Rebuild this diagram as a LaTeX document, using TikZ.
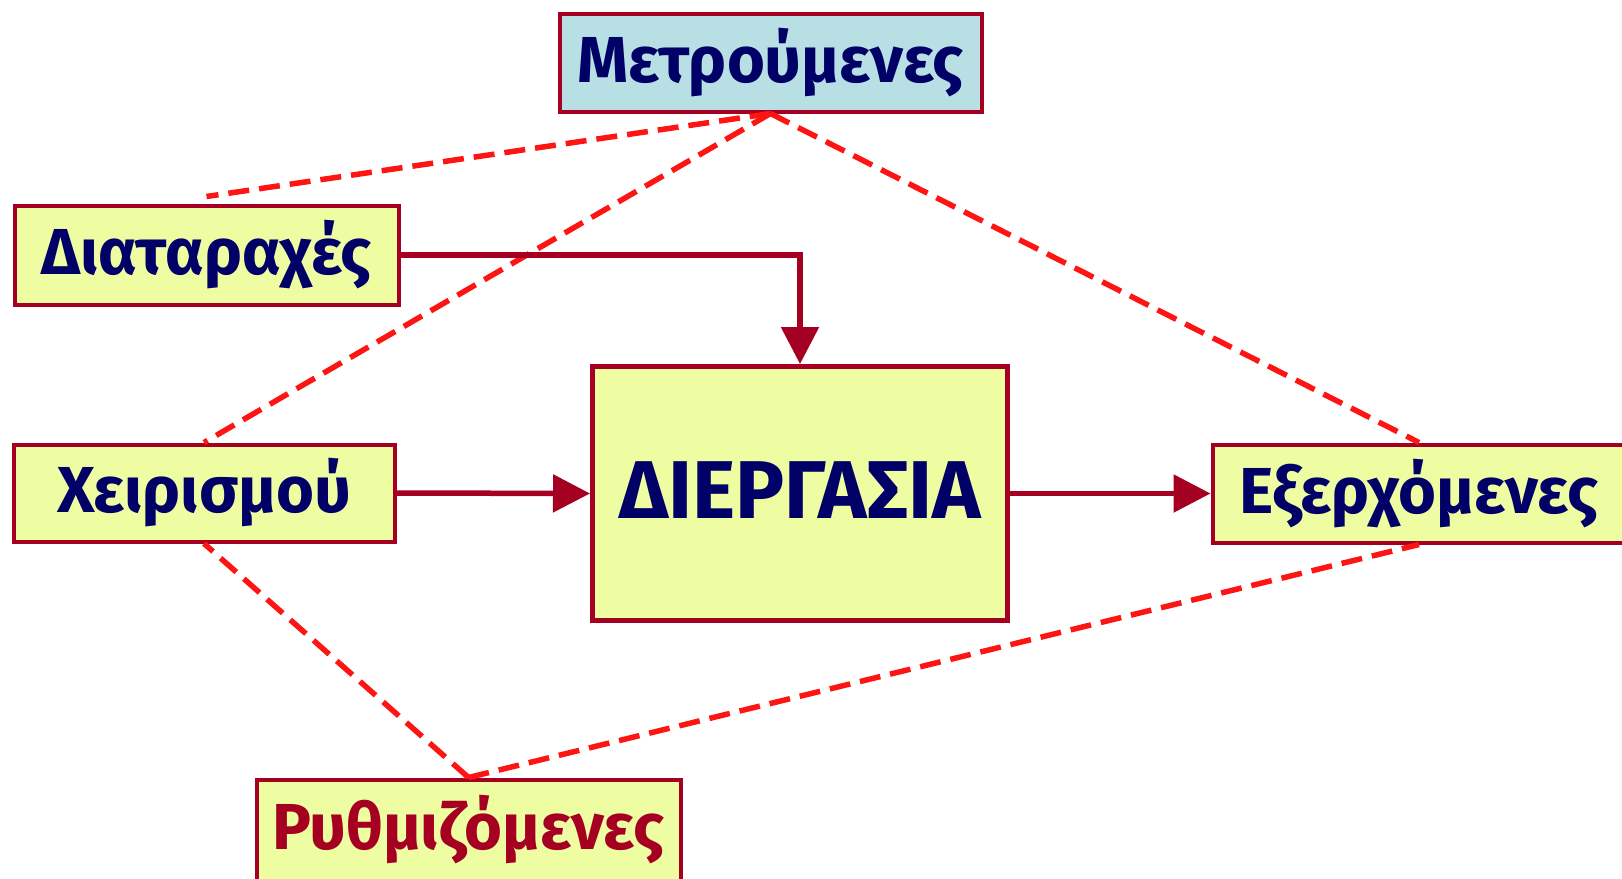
\documentclass[tikz,border=0pt]{standalone}
\usepackage{fontspec}
\setmainfont{Fira Sans}
\usetikzlibrary{arrows.meta}
\definecolor{bord}{HTML}{A50021}
\definecolor{yel}{HTML}{EEFCA2}
\definecolor{blu}{HTML}{B8E0E4}
\definecolor{navy}{HTML}{000066}
\definecolor{dashred}{HTML}{FF1414}
\begin{document}
\begin{tikzpicture}[x=1pt,y=-1pt,
  box/.style={draw=bord, line width=4pt, fill=yel, inner sep=0pt, text=navy,
    font=\fontsize{65}{70}\selectfont\bfseries},
  dline/.style={draw=dashred, line width=5.5pt, dash pattern=on 21pt off 10pt},
  arr/.style={draw=bord, line width=5.5pt, -{Triangle[length=37pt,width=37pt]}}]
\useasboundingbox (0,0) rectangle (1622,878);
\node[box, fill=blu, minimum width=422pt, minimum height=98pt] (metr) at (770.5,62.5) {Μετρούμενες};
\node[box, minimum width=384pt, minimum height=99pt] (diat) at (206.5,255) {Διαταραχές};
\node[box, minimum width=381pt, minimum height=97pt] (xeir) at (204,493) {Χειρισμού};
\node[box, line width=5pt, minimum width=415pt, minimum height=254pt, font=\fontsize{82}{86}\selectfont\bfseries] (dierg) at (800,493.5) {\raisebox{7pt}{ΔΙΕΡΓΑΣΙΑ}};
\node[box, minimum width=413pt, minimum height=98pt] (exer) at (1419,493.5) {Εξερχόμενες};
\node[box, text=bord, minimum width=424pt, minimum height=101pt] (ryth) at (468.5,830) {\raisebox{3pt}{Ρυθμιζόμενες}};
\draw[dline] (metr.south) -- ([yshift=7pt]diat.north);
\draw[dline] (metr.south) -- (xeir.north);
\draw[dline] (metr.south) -- (exer.north);
\draw[dline] (ryth.north) -- (xeir.south);
\draw[dline] (ryth.north) -- (exer.south);
\draw[arr] (diat.east) -| (dierg.north);
\draw[arr] (xeir.east) -- (dierg.west);
\draw[arr] (dierg.east) -- (exer.west);
\end{tikzpicture}
\end{document}
